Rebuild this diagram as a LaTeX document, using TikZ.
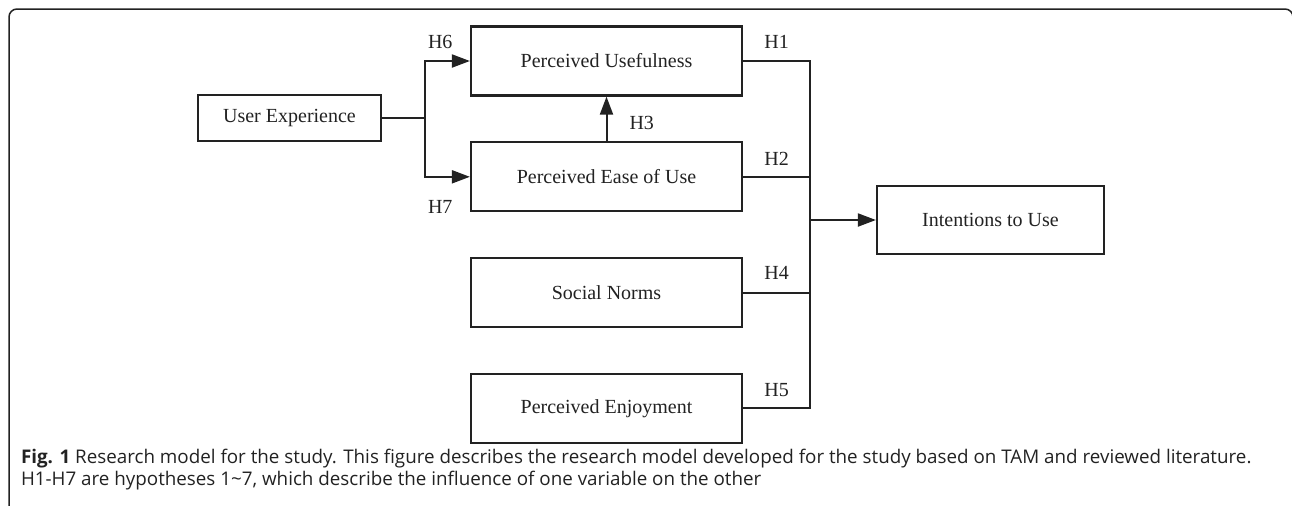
\documentclass[tikz,border=0pt]{standalone}
\usepackage{fontspec}
\setmainfont{Liberation Serif}
\newfontfamily\captionfont{Open Sans}
\usetikzlibrary{arrows.meta,positioning}
\definecolor{ink}{RGB}{34,34,34}

\begin{document}
\begin{tikzpicture}[x=0.5pt,y=-0.5pt,>={Triangle[length=9pt,width=6.5pt]},
  line width=1pt,color=ink,node distance=22.3pt,
  var node/.style={rectangle,draw,line width=1.1pt,fill=white,font=\fontsize{10}{12}\selectfont,minimum width=135.5pt,minimum height=34.5pt,inner sep=0pt},
  hyp/.style={font=\fontsize{10}{12}\selectfont,inner sep=1pt}]

  \useasboundingbox (0,0) rectangle (1292,505);
  % figure frame, cut at the bottom
  \begin{scope}
    \clip (0,0) rectangle (1292,505);
    \draw[line width=0.75pt,rounded corners=4pt] (9,9) rectangle (1293,540);
  \end{scope}

  \node[var node] (pu) at (606.5,61) {Perceived Usefulness};
  \node[var node] (peu) [below=of pu] {Perceived Ease of Use};
  \node[var node] (sn) [below=of peu] {Social Norms};
  \node[var node] (pe) [below=of sn] {Perceived Enjoyment};
  \node[var node,minimum width=91.5pt,minimum height=23pt] (ue) at (289.5,118) {User Experience};
  \node[var node,minimum width=113.5pt,minimum height=34pt] (itu) at (990.5,220) {Intentions to Use};

  \coordinate (fork) at (425,118);
  \coordinate (bus) at (810,220);

  % external variable
  \draw (ue) -- (fork);
  \draw[->] (fork) |- node[hyp,pos=0.5,anchor=south west,yshift=4.6pt] {H6} (pu);
  \draw[->] (fork) |- node[hyp,pos=0.5,anchor=north west,yshift=-10.1pt] {H7} (peu);
  \draw[->] (peu) -- node[hyp,pos=0.4,right=10pt] {H3} (pu);

  % paths into intention
  \draw (pu) -| node[hyp,pos=0.25,anchor=south,yshift=4.6pt] {H1} (bus);
  \draw (peu) -| node[hyp,pos=0.25,anchor=south,yshift=4.3pt] {H2} (bus);
  \draw (sn) -| node[hyp,pos=0.25,anchor=south,yshift=5pt] {H4} (bus);
  \draw (pe) -| node[hyp,pos=0.25,anchor=south,yshift=4.6pt] {H5} (bus);
  \draw[->] (bus) -- (itu);

  % caption
  \node[anchor=base west,inner sep=0pt,font=\captionfont\fontsize{9.4}{11}\selectfont] (cap1) at (20,463)
    {\textbf{Fig. 1} Research model for the study. This figure describes the research model developed for the study based on TAM and reviewed literature.};
  \node[anchor=base west,inner sep=0pt,font=\captionfont\fontsize{9.4}{11}\selectfont] (cap2) at (20,485)
    {H1-H7 are hypotheses 1\textasciitilde7, which describe the influence of one variable on the other};
\end{tikzpicture}
\end{document}
